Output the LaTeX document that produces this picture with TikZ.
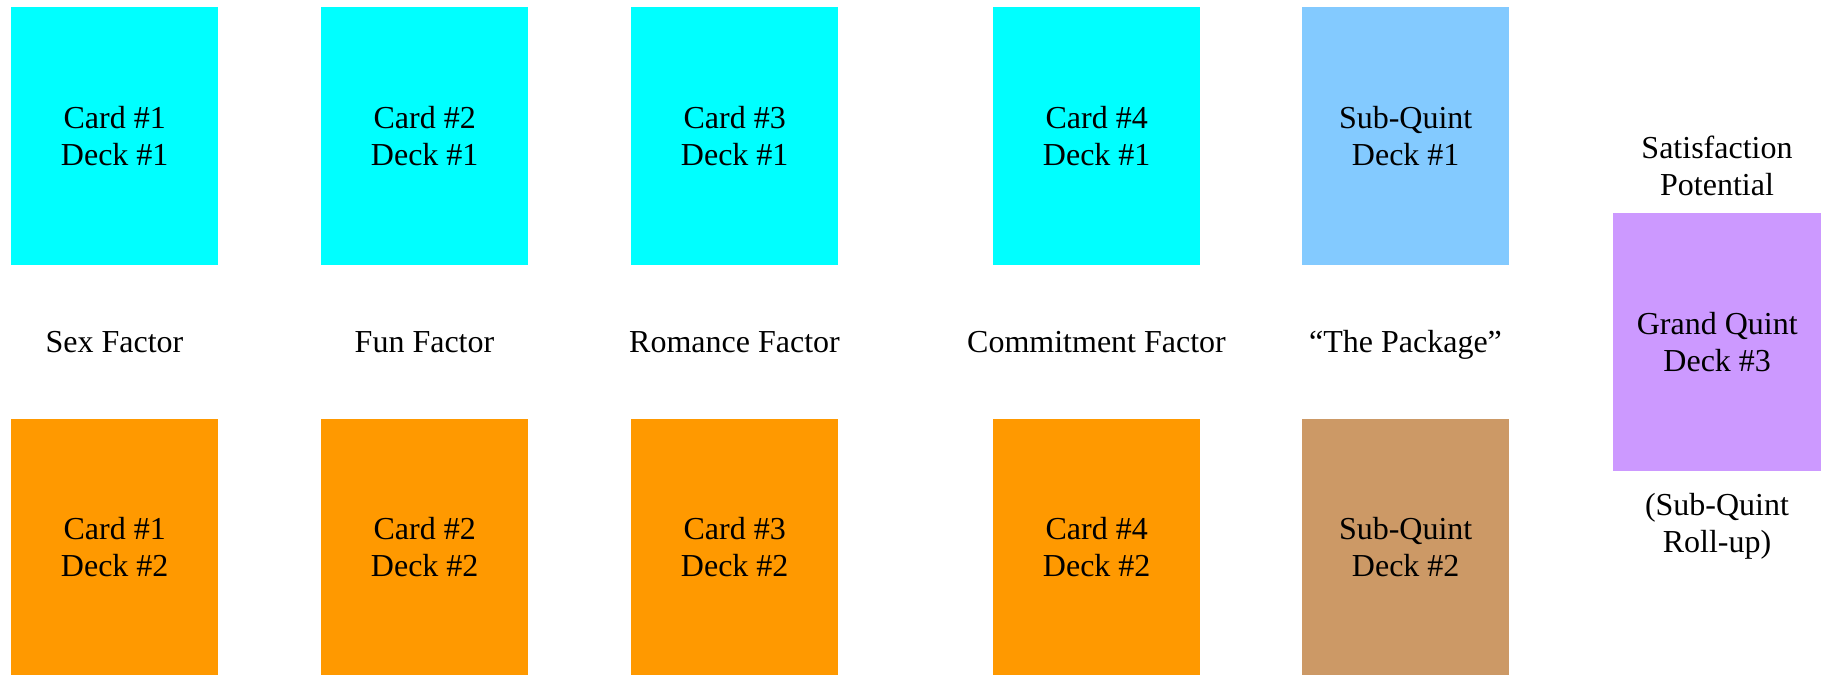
\documentclass[tikz,border=0pt]{standalone}
\usepackage{fontspec}
\setmainfont{Liberation Serif}
\definecolor{cardcyan}{HTML}{00FFFF}
\definecolor{cardorange}{HTML}{FF9900}
\definecolor{subblue}{HTML}{83CAFF}
\definecolor{subbrown}{HTML}{CC9966}
\definecolor{grandpurple}{HTML}{CC99FF}
\tikzset{
  card/.style={rectangle, inner sep=0pt, minimum width=207pt, minimum height=258pt,
    anchor=south west, align=center, font=\fontsize{32}{37}\selectfont},
  lbl/.style={inner sep=0pt, align=center, font=\fontsize{32}{37}\selectfont},
  factor/.style={lbl, anchor=base}
}
\begin{document}
\begin{tikzpicture}[x=1pt,y=1pt]
\useasboundingbox (0,0) rectangle (1825,675);
% top row
\node[card, fill=cardcyan] (c1a) at (11,410) {Card \#1\\Deck \#1};
\node[card, fill=cardcyan] (c2a) at (321,410) {Card \#2\\Deck \#1};
\node[card, fill=cardcyan] (c3a) at (631,410) {Card \#3\\Deck \#1};
\node[card, fill=cardcyan] (c4a) at (993,410) {Card \#4\\Deck \#1};
\node[card, fill=subblue] (sqa) at (1302,410) {Sub-Quint\\Deck \#1};
% bottom row
\node[card, fill=cardorange, minimum height=256pt] (c1b) at (11,0) {Card \#1\\Deck \#2};
\node[card, fill=cardorange, minimum height=256pt] (c2b) at (321,0) {Card \#2\\Deck \#2};
\node[card, fill=cardorange, minimum height=256pt] (c3b) at (631,0) {Card \#3\\Deck \#2};
\node[card, fill=cardorange, minimum height=256pt] (c4b) at (993,0) {Card \#4\\Deck \#2};
\node[card, fill=subbrown, minimum height=256pt] (sqb) at (1302,0) {Sub-Quint\\Deck \#2};
% grand quint
\node[card, fill=grandpurple, minimum width=208pt] (gq) at (1613,204) {Grand Quint\\Deck \#3};
% factor labels
\node[factor] (l1) at (114.5,322) {Sex Factor};
\node[factor] (l2) at (424.5,322) {Fun Factor};
\node[factor] (l3) at (734.5,322) {Romance Factor};
\node[factor] (l4) at (1096.5,322) {Commitment Factor};
\node[factor] (l5) at (1405.5,322) {“The Package”};
\node[lbl] (sp) at (1717,509) {Satisfaction\\Potential};
\node[lbl] (ru) at (1717,149) {(Sub-Quint\\Roll-up)};
\end{tikzpicture}
\end{document}
